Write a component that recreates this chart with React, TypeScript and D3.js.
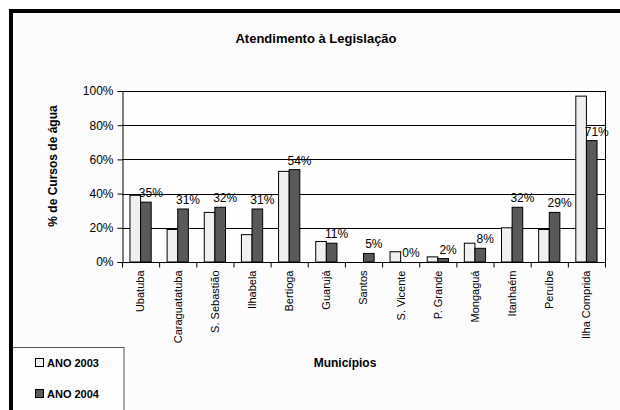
import React, { useEffect, useRef } from 'react';
import * as d3 from 'd3';

// Municípios do litoral paulista
const municipios = [
  'Ubatuba', 'Caraguatatuba', 'S. Sebastião', 'Ilhabela', 'Bertioga', 'Guarujá',
  'Santos', 'S. Vicente', 'P. Grande', 'Mongaguá', 'Itanhaém', 'Peruíbe', 'Ilha Comprida'
];
const ano2003 = [39, 19, 29, 16, 53, 12, 0, 6, 3, 11, 20, 19, 97];
const ano2004 = [35, 31, 32, 31, 54, 11, 5, 0, 2, 8, 32, 29, 71];
const yTicks = [0, 20, 40, 60, 80, 100];
const seriesNames = ['ANO 2003', 'ANO 2004'];
const seriesColors = ['#f0f0f0', '#595959'];

const W = 620;
const H = 410;

const App: React.FC = () => {
  const svgRef = useRef<SVGSVGElement>(null);

  useEffect(() => {
    if (!svgRef.current) return;
    const svg = d3.select(svgRef.current);
    svg.selectAll('*').remove();

    const font = 'Arial, "Liberation Sans", sans-serif';
    const left = 122, right = 605, top = 91, bottom = 262;

    // background + outer frame (only left/top visible)
    svg.append('rect').attr('width', W).attr('height', H).attr('fill', '#ffffff');
    svg.append('rect').attr('x', 11).attr('y', 11).attr('width', W).attr('height', H)
      .attr('fill', '#fcfcfc').attr('stroke', '#000').attr('stroke-width', 4);

    svg.append('text')
      .attr('x', 316).attr('y', 43)
      .attr('text-anchor', 'middle')
      .attr('font-family', font).attr('font-weight', 'bold').attr('font-size', 13)
      .text('Atendimento à Legislação');

    const x0 = d3.scaleBand().domain(municipios).range([left, right]).padding(0);
    const y = d3.scaleLinear().domain([0, 100]).range([bottom, top]);
    const C = x0.bandwidth();
    const b = C / 3.5; // gap width 150%
    const x1 = d3.scaleBand().domain(['0', '1']).range([(C - 2 * b) / 2, (C + 2 * b) / 2]).padding(0);

    const g = svg.append('g');

    g.append('rect').attr('x', left).attr('y', top).attr('width', right - left).attr('height', bottom - top)
      .attr('fill', '#fefefe');

    // gridlines
    g.selectAll('.grid').data(yTicks.filter(t => t > 0)).enter().append('line')
      .attr('x1', left).attr('x2', right)
      .attr('y1', d => Math.round(y(d)) + 0.5).attr('y2', d => Math.round(y(d)) + 0.5)
      .attr('stroke', '#000').attr('stroke-width', 1);
    g.append('line').attr('x1', right + 0.5).attr('x2', right + 0.5).attr('y1', top).attr('y2', bottom)
      .attr('stroke', '#000');

    // bars
    const series = [ano2003, ano2004];
    series.forEach((vals, si) => {
      g.selectAll(`.bar${si}`).data(vals).enter().append('rect')
        .attr('x', (d, i) => (x0(municipios[i]) || 0) + (x1(String(si)) || 0))
        .attr('y', d => y(d))
        .attr('width', x1.bandwidth())
        .attr('height', d => bottom - y(d))
        .attr('fill', seriesColors[si])
        .attr('stroke', d => (d > 0 ? '#000' : 'none'))
        .attr('stroke-width', 1);
    });

    // data labels (2004)
    g.selectAll('.lbl').data(ano2004).enter().append('text')
      .attr('x', (d, i) => (x0(municipios[i]) || 0) + (x1('1') || 0) + x1.bandwidth() / 2 + 5)
      .attr('y', d => y(d) - 5)
      .attr('text-anchor', 'middle')
      .attr('font-family', font).attr('font-size', 12).attr('fill', '#000')
      .text(d => `${d}%`);

    // y axis
    const yAxis = g.append('g').attr('transform', `translate(${left + 0.5},0)`)
      .call(d3.axisLeft(y).tickValues(yTicks).tickSize(5).tickFormat(d => `${d}%`));
    yAxis.selectAll('text').attr('font-family', font).attr('font-size', 12).attr('fill', '#000').attr('x', -9);
    yAxis.selectAll('line').attr('stroke', '#000');
    yAxis.select('.domain').attr('stroke', '#000');

    // x axis
    const xg = g.append('g').attr('transform', `translate(0,${bottom + 0.5})`);
    xg.append('line').attr('x1', left).attr('x2', right + 1).attr('stroke', '#000');
    xg.selectAll('.tk').data(d3.range(municipios.length + 1)).enter().append('line')
      .attr('x1', i => left + i * C + 0.5).attr('x2', i => left + i * C + 0.5)
      .attr('y1', 0).attr('y2', 5).attr('stroke', '#000');
    xg.selectAll('.xl').data(municipios).enter().append('text')
      .attr('transform', d => `translate(${(x0(d) || 0) + C / 2},8) rotate(-90)`)
      .attr('text-anchor', 'end').attr('dy', '0.35em')
      .attr('font-family', font).attr('font-size', 11).attr('fill', '#000')
      .text(d => d);

    // axis titles
    svg.append('text')
      .attr('transform', `translate(53,166) rotate(-90)`)
      .attr('text-anchor', 'middle').attr('dy', '0.35em')
      .attr('font-family', font).attr('font-weight', 'bold').attr('font-size', 12)
      .text('% de Cursos de água');
    svg.append('text')
      .attr('x', 345).attr('y', 367)
      .attr('text-anchor', 'middle')
      .attr('font-family', font).attr('font-weight', 'bold').attr('font-size', 12)
      .text('Municípios');

    // legend
    const lg = svg.append('g');
    lg.append('rect').attr('x', 12).attr('y', 347.5).attr('width', 112).attr('height', 80)
      .attr('fill', '#fdfdfd').attr('stroke', '#555').attr('stroke-width', 1);
    svg.append('line').attr('x1', 11).attr('x2', 11).attr('y1', 11).attr('y2', H)
      .attr('stroke', '#000').attr('stroke-width', 4);
    seriesNames.forEach((name, i) => {
      const yy = 363 + i * 31;
      lg.append('rect').attr('x', 35.5).attr('y', yy - 4.5).attr('width', 8).attr('height', 8)
        .attr('fill', seriesColors[i]).attr('stroke', '#000');
      lg.append('text').attr('x', 47).attr('y', yy).attr('dy', '0.35em')
        .attr('font-family', font).attr('font-weight', 'bold').attr('font-size', 11)
        .text(name);
    });
  }, []);

  return (
    <svg
      ref={svgRef}
      width={W}
      height={H}
      style={{ position: 'absolute', left: 0, top: 0, display: 'block' }}
    />
  );
};

export default App;
